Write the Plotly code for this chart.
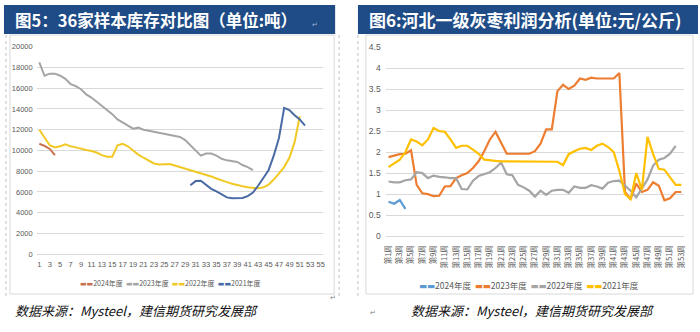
import plotly.graph_objects as go

# ---------------- data: left chart (36家样本库存, 吨) ----------------
inv_weeks_2024 = [1, 2, 3, 4]
inv_2024 = [10650, 10450, 10150, 9550]

inv_weeks_2023 = list(range(1, 43))
inv_2023 = [18500, 17200, 17400, 17400, 17200, 16900, 16400, 16200, 15900, 15400,
            15100, 14700, 14300, 13900, 13500, 13000, 12700, 12400, 12100, 12200,
            12000, 11900, 11800, 11700, 11600, 11500, 11400, 11300, 11000, 10500,
            9950, 9500, 9700, 9700, 9500, 9200, 9050, 8950, 8900, 8600,
            8400, 8100]

inv_weeks_2022 = list(range(1, 52))
inv_2022 = [12000, 11200, 10500, 10300, 10400, 10600, 10400, 10300, 10150, 10050,
            9950, 9800, 9550, 9400, 9400, 10500, 10650, 10400, 10000, 9600,
            9300, 9000, 8750, 8650, 8650, 8700, 8550, 8400, 8300, 8150,
            8000, 7800, 7650, 7500, 7300, 7100, 6950, 6800, 6650, 6550,
            6450, 6400, 6350, 6450, 6700, 7200, 7800, 8400, 9300, 10800,
            13300]

inv_weeks_2021 = list(range(30, 53))
inv_2021 = [6650, 7050, 7080, 6700, 6300, 6050, 5750, 5480, 5400, 5380,
            5420, 5600, 5950, 6600, 7300, 8100, 9500, 11200, 14100, 13900,
            13400, 13000, 12400]

inv_tick_vals = list(range(1, 56, 2))

# ---------------- data: right chart (河北一级灰枣利润, 元/公斤) ----------------
weeks = [f"第{i}周" for i in range(1, 54)]
week_ticks = [f"第{i}周" for i in range(1, 54, 2)]

profit_2024 = [0.82, 0.77, 0.86, 0.65]
profit_2023 = [1.88, 1.92, 1.95, 1.96, 2.04, 1.22, 1.02, 1.00, 0.95, 0.96,
               1.18, 1.19, 1.38, 1.45, 1.50, 1.62, 1.78, 2.02, 2.30, 2.48,
               2.22, 1.96, 1.96, 1.96, 1.96, 1.96, 2.02, 2.20, 2.54, 2.54,
               3.45, 3.60, 3.50, 3.58, 3.75, 3.72, 3.77, 3.75, 3.75, 3.75,
               3.75, 3.88, 1.05, 0.88, 1.25, 1.05, 1.10, 1.28, 1.20, 0.85,
               0.90, 1.05, 1.05]
profit_2022 = [1.30, 1.28, 1.28, 1.33, 1.35, 1.52, 1.50, 1.38, 1.44, 1.41,
               1.40, 1.38, 1.38, 1.12, 1.11, 1.32, 1.43, 1.47, 1.52, 1.62,
               1.75, 1.47, 1.45, 1.22, 1.16, 1.08, 0.94, 1.08, 0.98, 1.08,
               1.10, 1.10, 1.03, 1.18, 1.15, 1.15, 1.21, 1.18, 1.13, 1.27,
               1.31, 1.32, 1.20, 1.08, 0.92, 1.12, 1.35, 1.68, 1.82, 1.86,
               1.96, 2.15]
profit_2021 = [1.64, 1.72, 1.82, 2.00, 2.30, 2.25, 2.16, 2.30, 2.57, 2.50,
               2.48, 2.30, 2.10, 2.15, 2.15, 2.06, 1.96, 1.82, 1.80, 1.79,
               1.78, 1.78, 1.78, 1.78, 1.78, 1.78, 1.78, 1.78, 1.78, 1.78,
               1.77, 1.69, 1.95, 2.02, 2.08, 2.10, 2.05, 2.15, 2.20, 2.12,
               2.00, 1.55, 1.00, 0.88, 1.50, 1.10, 2.36, 1.95, 1.60, 1.58,
               1.40, 1.22, 1.22]

# ---------------- styling ----------------
W, H = 700, 332
def fx(x):
    return x / W
def fy(y):
    return 1 - y / H

L_COLORS = {"2024": "#C8714E", "2023": "#A5A5A5", "2022": "#F2C924", "2021": "#4A6AA5"}
R_COLORS = {"2024": "#5B9BD5", "2023": "#ED7D31", "2022": "#A5A5A5", "2021": "#FFC000"}
HEAD_BLUE = "#1F4C86"
GRID = "#D9D9D9"
TICK = dict(family="Liberation Sans, Arial, sans-serif", size=7.5, color="#595959")
CJK = "Noto Sans CJK SC"

fig = go.Figure()

left_series = [("2024", inv_weeks_2024, inv_2024), ("2023", inv_weeks_2023, inv_2023),
               ("2022", inv_weeks_2022, inv_2022), ("2021", inv_weeks_2021, inv_2021)]
for name, xs, ys in left_series:
    fig.add_trace(go.Scatter(x=xs, y=ys, mode="lines", name=name + "年度",
                             line=dict(color=L_COLORS[name], width=2),
                             xaxis="x", yaxis="y", showlegend=False))

right_series = [("2024", profit_2024), ("2023", profit_2023),
                ("2022", profit_2022), ("2021", profit_2021)]
for name, ys in right_series:
    fig.add_trace(go.Scatter(x=weeks[:len(ys)], y=ys, mode="lines", name=name + "年度",
                             line=dict(color=R_COLORS[name], width=2.2),
                             xaxis="x2", yaxis="y2", showlegend=False))

fig.update_layout(
    width=W, height=H, margin=dict(l=0, r=0, t=0, b=0),
    paper_bgcolor="white", plot_bgcolor="rgba(0,0,0,0)",
    xaxis=dict(domain=[fx(33), fx(322)], range=[0.5, 55.5], tickvals=inv_tick_vals,
               showgrid=False, zeroline=False, showline=True, linecolor=GRID,
               ticks="", tickfont=TICK, anchor="y", ticklabelstandoff=3),
    yaxis=dict(domain=[fy(257), fy(43)], range=[0, 20000], dtick=2000, tickformat="d",
               showgrid=True, gridcolor=GRID, zeroline=False, showline=False,
               ticks="", tickfont=TICK, anchor="x", ticklabelstandoff=3),
    xaxis2=dict(domain=[fx(385), fx(686)], type="category", categoryorder="array",
                categoryarray=weeks, range=[-0.5, 52.5], tickvals=week_ticks,
                tickangle=-90, showgrid=False, zeroline=False, showline=True,
                linecolor=GRID, ticks="", anchor="y2", ticklabelstandoff=5,
                tickfont=dict(family=CJK, size=7.5, color="#595959")),
    yaxis2=dict(domain=[fy(238.3), fy(43.3)], range=[0, 4.5], dtick=0.5,
                showgrid=True, gridcolor=GRID, zeroline=False, showline=False,
                ticks="", anchor="x2", ticklabelstandoff=4,
                tickfont=dict(family="Liberation Sans, Arial, sans-serif", size=8.5, color="#595959")),
)

shapes = [
    # header bars
    dict(type="rect", xref="paper", yref="paper", x0=fx(0), x1=fx(334), y0=fy(30), y1=fy(0),
         fillcolor=HEAD_BLUE, line=dict(width=0), layer="below"),
    dict(type="rect", xref="paper", yref="paper", x0=fx(357), x1=fx(700), y0=fy(30), y1=fy(0),
         fillcolor=HEAD_BLUE, line=dict(width=0), layer="below"),
    # chart frames
    dict(type="rect", xref="paper", yref="paper", x0=fx(6), x1=fx(333), y0=fy(298), y1=fy(31),
         fillcolor="white", line=dict(color=GRID, width=1), layer="below"),
    dict(type="rect", xref="paper", yref="paper", x0=fx(365), x1=fx(695), y0=fy(298), y1=fy(31),
         fillcolor="white", line=dict(color=GRID, width=1), layer="below"),
    # dotted cell borders
    dict(type="line", xref="paper", yref="paper", x0=fx(2), x1=fx(2), y0=fy(300), y1=fy(30),
         line=dict(color="#BFBFBF", width=1, dash="dot"), layer="below"),
    dict(type="line", xref="paper", yref="paper", x0=fx(338), x1=fx(338), y0=fy(300), y1=fy(30),
         line=dict(color="#BFBFBF", width=1, dash="dot"), layer="below"),
    dict(type="line", xref="paper", yref="paper", x0=fx(357), x1=fx(357), y0=fy(300), y1=fy(30),
         line=dict(color="#BFBFBF", width=1, dash="dot"), layer="below"),
]
fig.update_layout(shapes=shapes)

def legend_text(colors):
    parts = []
    for yr in ["2024", "2023", "2022", "2021"]:
        parts.append(f"<span style='color:{colors[yr]};font-family:DejaVu Sans'>▬▬</span>{yr}年度")
    return "  ".join(parts)

ann = [
    dict(text="<b>图5：36家样本库存对比图（单位:吨）</b>", x=fx(9), y=fy(15),
         xanchor="left", yanchor="middle", font=dict(family=CJK, size=16.5, color="white")),
    dict(text="<b>图6:河北一级灰枣利润分析(单位:元/公斤)</b>", x=fx(366), y=fy(15),
         xanchor="left", yanchor="middle", font=dict(family=CJK, size=17, color="white")),
    dict(text=legend_text(L_COLORS), x=fx(168), y=fy(287), xanchor="center", yanchor="middle",
         font=dict(family=CJK, size=7, color="#595959")),
    dict(text=legend_text(R_COLORS), x=fx(530), y=fy(289), xanchor="center", yanchor="middle",
         font=dict(family=CJK, size=8.5, color="#595959")),
    dict(text="<i>数据来源：Mysteel，建信期货研究发展部</i>", x=fx(9), y=fy(315),
         xanchor="left", yanchor="middle", font=dict(family=CJK, size=13, color="#111111")),
    dict(text="<i>数据来源：Mysteel，建信期货研究发展部</i>", x=fx(408), y=fy(315),
         xanchor="left", yanchor="middle", font=dict(family=CJK, size=13, color="#111111")),
    dict(text="↵", x=fx(314), y=fy(21), xanchor="center", yanchor="middle",
         font=dict(family="DejaVu Sans", size=7, color="#9FB3D1")),
    dict(text="↵", x=fx(332), y=fy(302), xanchor="center", yanchor="middle",
         font=dict(family="DejaVu Sans", size=7, color="#808080")),
    dict(text="↵", x=fx(372), y=fy(318), xanchor="center", yanchor="middle",
         font=dict(family="DejaVu Sans", size=7, color="#808080")),
]
for a in ann:
    a.update(xref="paper", yref="paper", showarrow=False)
fig.update_layout(annotations=ann)

fig.write_html("out.html")
